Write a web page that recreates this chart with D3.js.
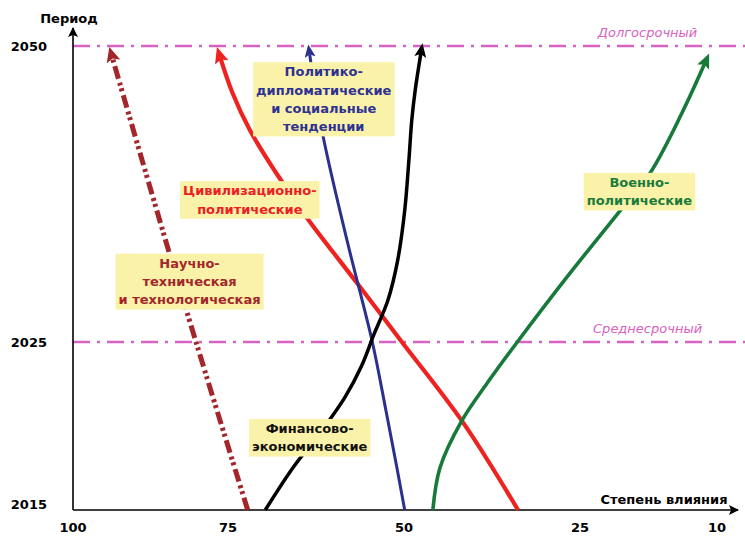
<!DOCTYPE html>
<html><head><meta charset="utf-8">
<script src="https://cdn.jsdelivr.net/npm/d3@7/dist/d3.min.js"></script>
<style>
html,body{margin:0;padding:0;background:#fff;}
svg{display:block;font-family:"DejaVu Sans",Verdana,sans-serif;}
</style></head>
<body>
<svg id="chart" width="745" height="536"></svg>
<script>
// ---- data ----
const xTicks = [100, 75, 50, 25, 10];          // степень влияния
const yTicks = [2015, 2025, 2050];             // период
const horizonYears = [2050, 2025];
const horizonNames = ["Долгосрочный", "Среднесрочный"];

const categories = [
  "Научно-техническая и технологическая",
  "Цивилизационно-политические",
  "Политико-дипломатические и социальные тенденции",
  "Финансово-экономические",
  "Военно-политические"
];
// series values: [степень влияния, год]
const sciTech = [[72.2,2015],[82.7,2029.4],[93.7,2049.1]];
const civil   = [[33.8,2015],[41.6,2020.2],[50.3,2025],[56.7,2030.0],[63.8,2035.5],[68.3,2039.4],[71.9,2042.9],[74.4,2046.1],[76.3,2049.1]];
const diplo   = [[49.9,2015],[51.0,2017.5],[52.6,2021.0],[54.5,2025],[58.1,2033.6],[61.6,2042.7],[63.4,2049.3]];
const finance = [[69.7,2015],[65.8,2017.5],[61.9,2019.6],[58.4,2021.7],[56.0,2023.6],[54.3,2025.6],[52.3,2028.5],[50.9,2031.9],[49.9,2036.1],[49.3,2040.4],[48.9,2043.7],[48.4,2046.3],[47.6,2049.4]];
const military= [[45.9,2015],[44.9,2017.5],[41.8,2020.3],[38.1,2022.6],[33.9,2025],[26.7,2030.6],[20.6,2036.1],[17.3,2039.3],[13.8,2044.4],[11.3,2048.6]];
const labelLines = [
  ["Научно-","техническая","и технологическая"],
  ["Цивилизационно-","политические"],
  ["Политико-","дипломатические","и социальные","тенденции"],
  ["Финансово-","экономические"],
  ["Военно-","политические"]
];
// label anchor (centre) in data units
const labelAt = [[81.2,2030.1],[71.9,2037.0],[61.4,2045.5],[63.4,2019.3],[18.5,2037.7]];

// ---- styles ----
const styles = [
  {stroke:"#a3262b", text:"#a3262b", width:5,   dash:"13,4,3,3,3,4", al:15, aw:14},
  {stroke:"#ee2320", text:"#ee1c24", width:4.2, dash:null, al:16, aw:14},
  {stroke:"#2b2f8e", text:"#2e3192", width:3,   dash:null, al:13, aw:11},
  {stroke:"#000000", text:"#111111", width:3.5, dash:null, al:14, aw:12},
  {stroke:"#177a3a", text:"#1a7b3c", width:3.6, dash:null, al:15, aw:13}
];
const series = [sciTech, civil, diplo, finance, military];
const pink = "#d862c2";

const svg = d3.select("#chart");
const x = d3.scaleLinear().domain(xTicks).range([73, 228, 404, 580, 717]);
const y = d3.scaleLinear().domain(yTicks).range([510, 342, 46]);

// markers
const defs = svg.append("defs");
styles.forEach((s,i)=>{
  defs.append("marker").attr("id","arr"+i)
    .attr("markerUnits","userSpaceOnUse")
    .attr("markerWidth",s.al).attr("markerHeight",s.aw)
    .attr("viewBox",`0 0 ${s.al} ${s.aw}`)
    .attr("refX",s.al-10).attr("refY",s.aw/2).attr("orient","auto")
    .append("path").attr("d",`M0,0 L${s.al},${s.aw/2} L0,${s.aw} L3,${s.aw/2} Z`)
    .attr("fill",s.stroke);
});
defs.append("marker").attr("id","axarr").attr("markerUnits","userSpaceOnUse")
  .attr("markerWidth",10).attr("markerHeight",10).attr("viewBox","0 0 10 10")
  .attr("refX",9).attr("refY",5).attr("orient","auto")
  .append("path").attr("d","M0,0 L10,5 L0,10 L2,5 Z").attr("fill","#000");

// horizon lines
svg.append("g").selectAll("line").data(horizonYears).join("line")
  .attr("x1",x(100)).attr("x2",745)
  .attr("y1",d=>y(d)).attr("y2",d=>y(d))
  .attr("stroke",pink).attr("stroke-width",2.5)
  .attr("stroke-dasharray","17,7,3,7");
svg.append("g").selectAll("text").data(horizonYears).join("text")
  .attr("x",x(17.6)).attr("y",d=>y(d)-9)
  .attr("text-anchor","middle").attr("font-size",13).attr("font-style","italic")
  .attr("fill",pink).text((d,i)=>horizonNames[i]);

// axes
svg.append("line").attr("x1",x(100)).attr("y1",y(2015)).attr("x2",x(100)).attr("y2",28)
  .attr("stroke","#000").attr("stroke-width",1.6).attr("marker-end","url(#axarr)");
svg.append("line").attr("x1",x(100)).attr("y1",y(2015)).attr("x2",738).attr("y2",y(2015))
  .attr("stroke","#000").attr("stroke-width",1.6).attr("marker-end","url(#axarr)");

svg.append("g").selectAll("text").data(xTicks).join("text")
  .attr("x",d=>x(d)).attr("y",527).attr("dominant-baseline","central")
  .attr("text-anchor","middle").attr("font-size",13).attr("font-weight","bold").text(d=>d);
svg.append("g").selectAll("text").data(yTicks).join("text")
  .attr("x",47).attr("y",d=>d===2015? y(d)-6 : y(d)).attr("dominant-baseline","central")
  .attr("text-anchor","end").attr("font-size",13).attr("font-weight","bold").text(d=>d);

svg.append("text").attr("x",69).attr("y",18).attr("dominant-baseline","central")
  .attr("text-anchor","middle").attr("font-size",13).attr("font-weight","bold").text("Период");
svg.append("text").attr("x",664).attr("y",499).attr("dominant-baseline","central")
  .attr("text-anchor","middle").attr("font-size",13).attr("font-weight","bold").text("Степень влияния");

// curves
const line = d3.line().x(d=>x(d[0])).y(d=>y(d[1])).curve(d3.curveCatmullRom.alpha(0.5));
series.forEach((s,i)=>{
  svg.append("path").datum(s).attr("d",line)
    .attr("fill","none").attr("stroke",styles[i].stroke)
    .attr("stroke-width",styles[i].width)
    .attr("stroke-dasharray",styles[i].dash)
    .attr("marker-end",`url(#arr${i})`);
});

// labels
const lh = 18.3;
labelLines.forEach((lines,i)=>{
  const g = svg.append("g");
  const cx = x(labelAt[i][0]), cy = y(labelAt[i][1]);
  const rect = g.append("rect").attr("fill","#f9f2a8");
  const t = g.append("text").attr("font-size",13).attr("font-weight","bold")
    .attr("fill",styles[i].text).attr("text-anchor","middle");
  lines.forEach((ln,j)=>{
    t.append("tspan").attr("x",cx)
      .attr("y",cy + (j-(lines.length-1)/2)*lh)
      .attr("dominant-baseline","central").text(ln);
  });
  const bb = t.node().getBBox();
  const h = lines.length*lh + 1;
  rect.attr("x",bb.x-3).attr("width",bb.width+6)
      .attr("y",cy-h/2).attr("height",h);
});
</script>
</body></html>
